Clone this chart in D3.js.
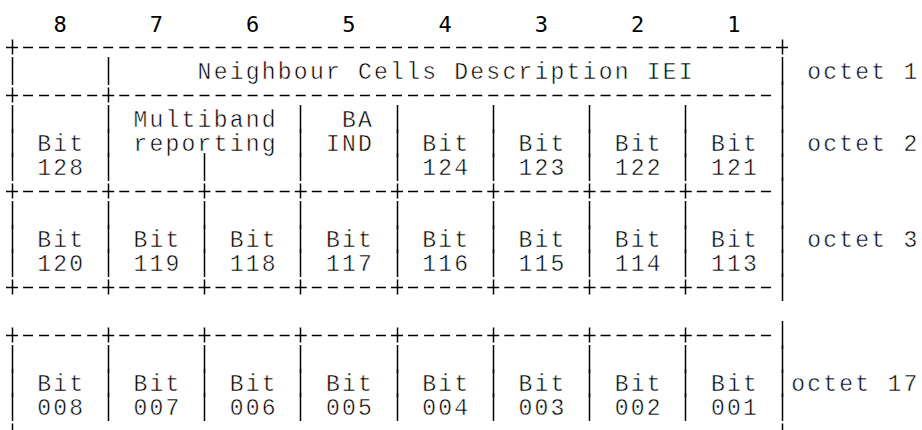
<!DOCTYPE html>
<html>
<head>
<meta charset="utf-8">
<script src="https://cdn.jsdelivr.net/npm/d3@7/dist/d3.min.js"></script>
<style>
  html, body { margin: 0; padding: 0; background: #fff; }
  svg { display: block; }
</style>
</head>
<body>
<svg id="chart" width="922" height="430"></svg>
<script>
// ---- data ----
const bitNumbers = ["8", "7", "6", "5", "4", "3", "2", "1"];
const ieiLabel = "Neighbour Cells Description IEI";
const octetLabels = ["octet 1", "octet 2", "octet 3", "octet 17"];
const octet2Cells = [
  { span: 1, lines: ["", "Bit", "128"] },
  { span: 2, lines: ["Multiband", "reporting", ""] },
  { span: 1, lines: ["BA", "IND", ""] },
  { span: 1, lines: ["", "Bit", "124"] },
  { span: 1, lines: ["", "Bit", "123"] },
  { span: 1, lines: ["", "Bit", "122"] },
  { span: 1, lines: ["", "Bit", "121"] }
];
const octet3Bits = ["120", "119", "118", "117", "116", "115", "114", "113"];
const octet17Bits = ["008", "007", "006", "005", "004", "003", "002", "001"];

// ---- character grid (ASCII-art layout) ----
const NCOLS = 60, NLINES = 18, CELL = 6, RIGHT = 48;
const grid = d3.range(NLINES).map(() => d3.range(NCOLS).map(() => " "));
function put(r, c, s) { for (let i = 0; i < s.length; i++) grid[r][c + i] = s[i]; }
function centered(r, c0, w, s) { put(r, c0 + Math.ceil((w - s.length) / 2), s); }
function hline(r, plusCols, endChar) {
  for (let c = 0; c < RIGHT; c++) grid[r][c] = "-";
  plusCols.forEach(c => grid[r][c] = "+");
  grid[r][RIGHT] = endChar;
}
function cellRow(r0, cells) {
  let c = 0;
  cells.forEach(cell => {
    for (let k = 0; k < 3; k++) grid[r0 + k][c] = "|";
    cell.lines.forEach((t, k) => { if (t) centered(r0 + k, c + 1, CELL * cell.span - 1, t); });
    c += CELL * cell.span;
  });
  for (let k = 0; k < 3; k++) grid[r0 + k][RIGHT] = "|";
}
const allPlus = d3.range(0, RIGHT, CELL);

hline(1, [0], "+");
grid[2][0] = "|"; grid[2][6] = "|"; grid[2][RIGHT] = "|";
centered(2, 7, 41, ieiLabel);
put(2, 50, octetLabels[0]);
hline(3, [0, 6], "|");
cellRow(4, octet2Cells);
grid[6][12] = "|";
put(5, 50, octetLabels[1]);
hline(7, allPlus, "|");
cellRow(8, octet3Bits.map(b => ({ span: 1, lines: ["", "Bit", b] })));
put(9, 50, octetLabels[2]);
hline(11, allPlus, "|");
hline(13, allPlus, "|");
cellRow(14, octet17Bits.map(b => ({ span: 1, lines: ["", "Bit", b] })));
put(15, 49, octetLabels[3]);
hline(17, [0], "+");

const chars = [];
grid.forEach((row, r) => row.forEach((ch, c) => { if (ch !== " ") chars.push({ r, c, ch }); }));
const border = chars.filter(d => "-+|".includes(d.ch));
const letters = chars.filter(d => !"-+|".includes(d.ch));

// ---- scales ----
const x = d3.scaleLinear().domain([0, RIGHT]).range([12, 782]);
const yMid = d3.scaleLinear().domain([0, 17]).range([23, 23 + 24 * 17]);
const px = v => Math.round(v - 0.5) + 0.5;

const svg = d3.select("#chart");
svg.append("rect").attr("width", 922).attr("height", 430).attr("fill", "#fff");

// border glyphs drawn as strokes on the character grid
const segs = [];
border.forEach(d => {
  const cx = x(d.c), cy = yMid(d.r);
  if (d.ch === "-") segs.push([cx - 5, px(cy), cx + 5, px(cy)]);
  if (d.ch === "+") {
    segs.push([cx - 6, px(cy), cx + 6, px(cy)]);
    segs.push([px(cx), cy - 7.5, px(cx), cy + 7.5]);
  }
  if (d.ch === "|") segs.push([px(cx), cy - 14, px(cx), cy + 14]);
});
svg.append("g")
  .attr("stroke", "#000")
  .attr("stroke-width", 1.5)
  .selectAll("line")
  .data(segs)
  .join("line")
  .attr("x1", d => d[0]).attr("y1", d => d[1])
  .attr("x2", d => d[2]).attr("y2", d => d[3]);

const mono = "'Courier New', 'Liberation Mono', monospace";
svg.append("g").selectAll("text")
  .data(letters)
  .join("text")
  .attr("x", d => x(d.c))
  .attr("y", d => yMid(d.r) + 7.5)
  .attr("text-anchor", "middle")
  .attr("font-family", mono)
  .attr("font-size", 23)
  .attr("fill", "#000")
  .attr("stroke", "#fff")
  .attr("stroke-width", 0.5)
  .text(d => d.ch);

svg.append("g").selectAll("text")
  .data(bitNumbers)
  .join("text")
  .attr("x", (d, i) => x(CELL * i + 3))
  .attr("y", yMid(0) + 8.5)
  .attr("text-anchor", "middle")
  .attr("font-family", "'DejaVu Sans Mono', monospace")
  .attr("font-size", 22)
  .attr("fill", "#000")
  .text(d => d);
</script>
</body>
</html>
